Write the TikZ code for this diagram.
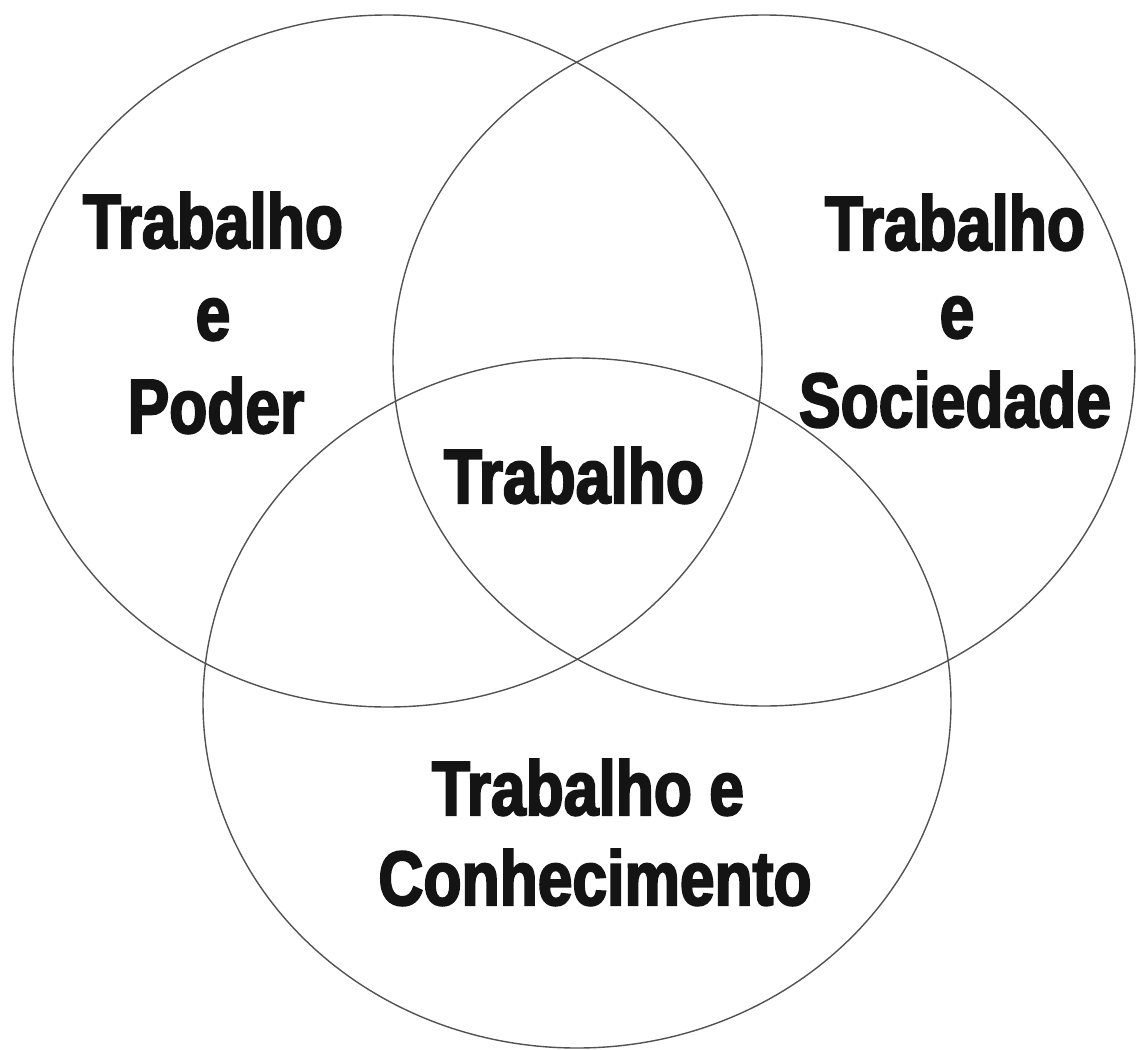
\documentclass[tikz,border=0pt]{standalone}
\usepackage{fontspec}
\newfontfamily\condfont{Liberation Sans}[UprightFont=* Bold, FakeStretch=0.81, FakeBold=2.6]
\begin{document}
\begin{tikzpicture}[x=1pt,y=-1pt,
  ring/.style={draw=black!68, line width=1.4pt},
  lbl/.style={anchor=base, inner sep=0pt, text=black!92, font=\condfont\fontsize{77}{80}\selectfont}]
\useasboundingbox[fill=white] (0,0) rectangle (1136,1050);
% ellipses
\draw[ring] (387.5,361) ellipse [x radius=374.5pt, y radius=346pt];
\draw[ring] (764,360.5) ellipse [x radius=371pt, y radius=345.5pt];
\draw[ring] (577,703) ellipse [x radius=374pt, y radius=345pt];
% left
\node[lbl] (l1) at (213,248) {Trabalho};
\node[lbl] (l2) at (213,340) {e};
\node[lbl] (l3) at (216,433) {Poder};
% right
\node[lbl] (r1) at (955,250) {Trabalho};
\node[lbl] (r2) at (957,338) {e};
\node[lbl] (r3) at (955,427) {Sociedade};
% centre
\node[lbl] (c1) at (574,503) {Trabalho};
% bottom
\node[lbl] (b1) at (588,815) {Trabalho e};
\node[lbl] (b2) at (595,905) {Conhecimento};
\end{tikzpicture}
\end{document}
